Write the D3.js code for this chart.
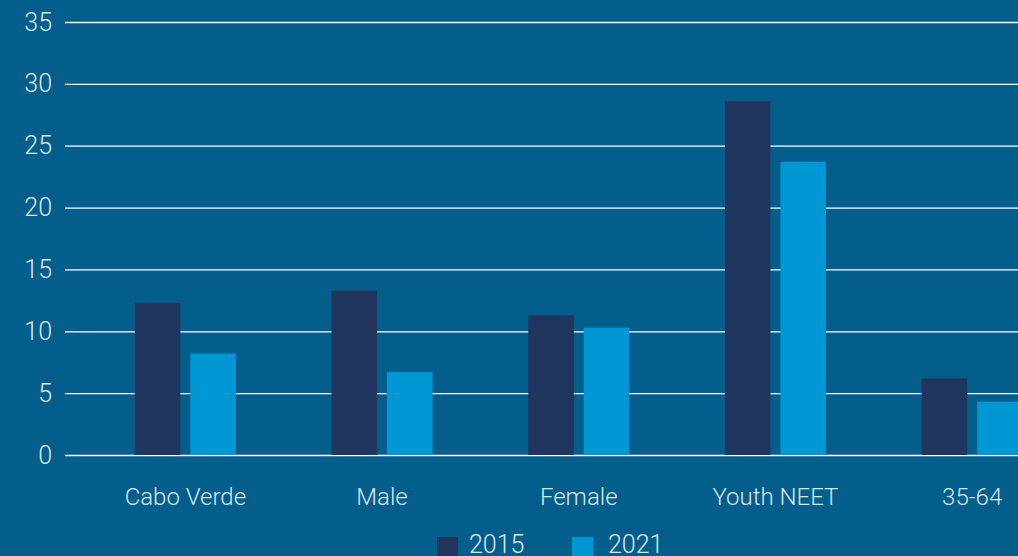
<!DOCTYPE html>
<html>
<head>
<meta charset="utf-8">
<script src="https://cdn.jsdelivr.net/npm/d3@7"></script>
<style>
  html, body { margin: 0; padding: 0; background: #035e8c; overflow: hidden; }
  svg { display: block; }
  text { font-family: Roboto, "Open Sans", sans-serif; font-weight: 300; fill: #dbe7ef; }
</style>
</head>
<body>
<div id="chart"></div>
<script>
const categories = ["Cabo Verde", "Male", "Female", "Youth NEET", "35-64"];
const seriesNames = ["2015", "2021"];
const values2015 = [12.3, 13.3, 11.3, 28.6, 6.2];
const values2021 = [8.2, 6.7, 10.3, 23.7, 4.3];
const yTicks = [0, 5, 10, 15, 20, 25, 30, 35];

const colors = ["#20365f", "#0098d4"];

const w = 1018;
const h = 556;

const svg = d3.select("#chart")
              .append("svg")
              .attr("width", w)
              .attr("height", h)
              .style("background-color", "#035e8c");

// scales (plot is cut off on the right, like the original)
const xScale = d3.scaleBand()
                 .domain(categories)
                 .range([87, 87 + 5 * 196.7]);

const xInner = d3.scaleBand()
                 .domain(seriesNames)
                 .range([xScale.bandwidth() / 2 - 50.5, xScale.bandwidth() / 2 + 50.5])
                 .paddingInner(0.18);

const yScale = d3.scaleLinear()
                 .domain([0, 35])
                 .range([455, 22]);

// gridlines + y labels
const yAxis = d3.axisLeft(yScale)
                .tickValues(yTicks)
                .tickSize(-(w - 65))
                .tickPadding(13);

const yG = svg.append("g")
              .attr("transform", "translate(65,0)")
              .call(yAxis);
yG.select(".domain").remove();
yG.selectAll(".tick line").attr("stroke", "#ffffff").attr("stroke-width", 1.3);
yG.selectAll(".tick text")
  .style("font-size", "25px")
  .attr("fill", "#dbe7ef");

// bars
const rows = categories.map((c, i) => ({ cat: c, vals: [values2015[i], values2021[i]] }));

const groups = svg.selectAll(".grp")
                  .data(rows)
                  .enter()
                  .append("g")
                  .attr("class", "grp")
                  .attr("transform", d => "translate(" + xScale(d.cat) + ",0)");

groups.selectAll("rect")
      .data(d => d.vals.map((v, j) => ({ key: seriesNames[j], v: v, j: j })))
      .enter()
      .append("rect")
      .attr("x", d => xInner(d.key))
      .attr("width", xInner.bandwidth())
      .attr("y", d => yScale(d.v))
      .attr("height", d => yScale(0) - yScale(d.v))
      .attr("fill", d => colors[d.j]);

// category labels
const xAxis = d3.axisBottom(xScale).tickSize(0).tickPadding(0);
const xG = svg.append("g")
              .attr("transform", "translate(0,488)")
              .call(xAxis);
xG.select(".domain").remove();
xG.selectAll(".tick text")
  .style("font-size", "24px")
  .attr("fill", "#dbe7ef");

// legend
const legendX = [437, 572];
const legend = svg.selectAll(".legend")
                  .data(seriesNames)
                  .enter()
                  .append("g")
                  .attr("class", "legend")
                  .attr("transform", (d, i) => "translate(" + legendX[i] + ",537)");

legend.append("rect")
      .attr("width", 21)
      .attr("height", 21)
      .attr("fill", (d, i) => colors[i]);

legend.append("text")
      .attr("x", (d, i) => i === 0 ? 32 : 36)
      .attr("y", 16)
      .style("font-size", "25px")
      .text(d => d);
</script>
</body>
</html>
